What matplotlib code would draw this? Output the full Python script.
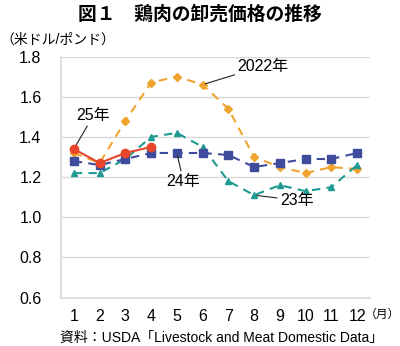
import numpy as np
import matplotlib
matplotlib.use("Agg")
import matplotlib.pyplot as plt

plt.rcParams['font.family'] = ['Liberation Sans', 'Noto Sans CJK JP', 'DejaVu Sans']

months = [1, 2, 3, 4, 5, 6, 7, 8, 9, 10, 11, 12]
price_2022 = [1.32, 1.27, 1.48, 1.67, 1.70, 1.66, 1.54, 1.30, 1.25, 1.22, 1.25, 1.24]
price_2023 = [1.22, 1.22, 1.29, 1.40, 1.42, 1.35, 1.18, 1.11, 1.16, 1.13, 1.15, 1.26]
price_2024 = [1.28, 1.26, 1.29, 1.32, 1.32, 1.32, 1.31, 1.25, 1.27, 1.29, 1.29, 1.32]
price_2025 = [1.34, 1.27, 1.32, 1.35]
yticks = [0.6, 0.8, 1.0, 1.2, 1.4, 1.6, 1.8]

fig = plt.figure(figsize=(4.0, 3.46), dpi=100)
ax = fig.add_axes([0.1525, 0.1396, 0.7725, 0.6971])

ax.plot(months, price_2022, color='#F0A430', ls=(0, (4, 3)), lw=1.5,
        marker='D', ms=4.5, zorder=3)
ax.plot(months, price_2023, color='#1E9A92', ls=(0, (4, 3)), lw=1.5,
        marker='^', ms=5, zorder=3)
ax.plot(months, price_2024, color='#3F4C9E', ls=(0, (4, 3)), lw=1.5,
        marker='s', ms=5.5, zorder=3)
ax.plot(months[:len(price_2025)], price_2025, color='#E8452A', ls='-', lw=1.5,
        marker='o', ms=6, zorder=4)

ax.set_xlim(0.5, 12.5)
ax.set_ylim(0.6, 1.8)
ax.set_yticks(yticks)
ax.set_yticklabels([f"{v:.1f}" for v in yticks])
ax.set_xticks(months)
ax.tick_params(axis='both', length=0, labelsize=11.5, pad=8)
ax.tick_params(axis='y', pad=14)
ax.grid(axis='y', color='#D9D9D9', lw=1)
ax.set_axisbelow(True)
for s in ['top', 'right']:
    ax.spines[s].set_visible(False)
for s in ['left', 'bottom']:
    ax.spines[s].set_color('#D9D9D9')
    ax.spines[s].set_linewidth(1.2)

# series labels with leader lines
arrow = dict(arrowstyle='-', color='#222222', lw=0.8, shrinkA=0, shrinkB=2)
ax.annotate('2022年', xy=(6, price_2022[5]), xytext=(7.35, 1.752), fontsize=11.5,
            va='center', ha='left', arrowprops=arrow)
ax.annotate('25年', xy=(1, price_2025[0]), xytext=(1.1, 1.505), fontsize=11.5,
            va='center', ha='left', arrowprops=arrow)
ax.annotate('24年', xy=(5, price_2024[4]), xytext=(5.25, 1.18), fontsize=11.5,
            va='center', ha='center', arrowprops=arrow)
ax.annotate('23年', xy=(8, price_2023[7]), xytext=(9.0, 1.085), fontsize=11.5,
            va='center', ha='left', arrowprops=arrow)

fig.text(0.5, 0.957, '図１　鶏肉の卸売価格の推移', fontsize=13.5, fontweight='bold',
         ha='center', va='center')
fig.text(0.0, 0.885, '（米ドル/ポンド）', fontsize=10, ha='left', va='center')
fig.text(1.0, 0.09, '（月）', fontsize=8.5, ha='right', va='center')
fig.text(0.15, 0.025, '資料：USDA「Livestock and Meat Domestic Data」', fontsize=10,
         ha='left', va='center')

fig.savefig('out.png', dpi=100)
